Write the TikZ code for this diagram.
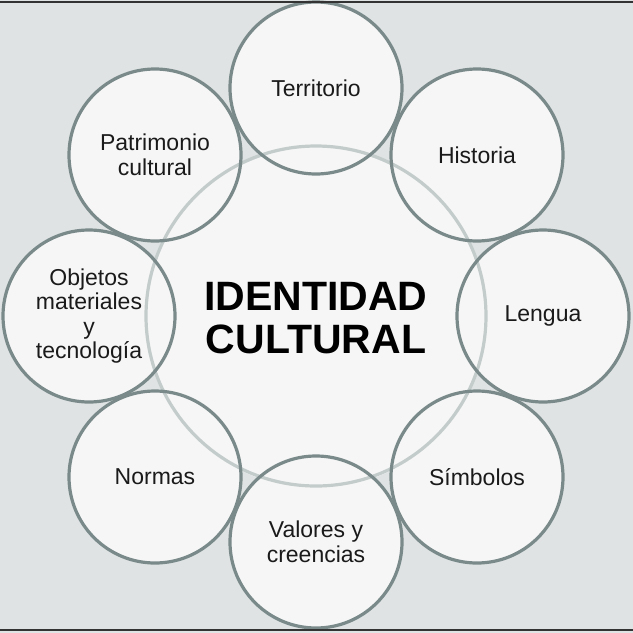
\documentclass[tikz,border=0pt]{standalone}
\usepackage{fontspec}
\setmainfont{Liberation Sans}
\definecolor{bgc}{HTML}{DFE3E3}
\definecolor{ringc}{HTML}{7A8A8A}
\definecolor{innerc}{HTML}{C3CBCB}
\definecolor{fillc}{HTML}{F6F6F6}
\definecolor{txtc}{HTML}{1A1A1A}
\tikzset{
  bubble/.style={circle, fill=fillc, minimum size=174pt, inner sep=0pt, align=center,
    text=txtc, font=\fontsize{23}{24.5}\selectfont},
  core/.style={circle, fill=fillc, minimum size=340pt, inner sep=0pt, align=center,
    text=black, font=\fontsize{41}{43}\selectfont\bfseries},
  ringline/.style={draw=ringc, line width=3.2pt},
  coreline/.style={draw=innerc, line width=3.2pt},
  frameline/.style={draw=black!80, line width=2pt}
}
\begin{document}
\begin{tikzpicture}[x=1pt,y=-1pt]
\useasboundingbox (0,0) rectangle (633,633);
\fill[bgc] (0,0) rectangle (633,633);
\node[core] (c) at (316,318) {IDENTIDAD\\CULTURAL};
\node[bubble] (t) at (316,88) {Territorio};
\node[bubble] (h) at (477,155) {Historia};
\node[bubble] (l) at (543,316) {Lengua};
\node[bubble] (s) at (477,477) {Símbolos};
\node[bubble] (v) at (316,542) {Valores y\\creencias};
\node[bubble] (n) at (155,477) {Normas};
\node[bubble] (o) at (89,316) {Objetos\\materiales\\y\\tecnología};
\node[bubble] (p) at (155,155) {Patrimonio\\cultural};
\draw[coreline] (316,316) circle[radius=170];
\foreach \k in {t,h,l,s,v,n,o,p}{
  \draw[ringline] (\k.center) circle[radius=86];
}
\draw[frameline] (0,2) -- (633,2);
\draw[frameline] (0,630) -- (633,630);
\end{tikzpicture}
\end{document}
